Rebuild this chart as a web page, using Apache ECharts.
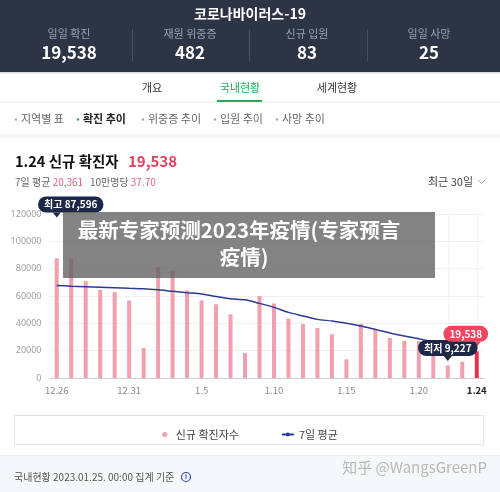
<!DOCTYPE html>
<html><head><meta charset="utf-8">
<script src="https://cdn.jsdelivr.net/npm/echarts@6/dist/echarts.min.js"></script>
<style>html,body{margin:0;padding:0;background:#fff}#c{width:500px;height:492px}</style>
</head><body><div id="c"></div>
<script>
const dates = ['12.26','12.27','12.28','12.29','12.30','12.31','1.1','1.2','1.3','1.4','1.5','1.6','1.7','1.8','1.9','1.10','1.11','1.12','1.13','1.14','1.15','1.16','1.17','1.18','1.19','1.20','1.21','1.22','1.23','1.24'];
const cases = [87596,87300,70800,64500,62800,56700,21900,81000,78800,64000,56800,53900,46600,18300,60000,54500,43500,39400,36600,32000,13600,39700,36100,29400,27200,26800,21500,9227,11900,19538];
const avg7 = [67700,67200,66800,66400,66000,65600,65300,64500,63400,62400,61500,59600,58000,57200,54600,51700,48000,45400,42900,41700,40000,38000,35500,33000,30800,28800,26500,24000,22000,20361];
const yTicks = [0,20000,40000,60000,80000,100000,120000];
const xLabelIdx = [0,5,10,15,20,25,29];
const stats = [['일일 확진','19,538'],['재원 위중증','482'],['신규 입원','83'],['일일 사망','25']];
const KR = "'Noto Sans CJK KR', 'Noto Sans', sans-serif";
const SC = "'Noto Sans CJK SC', sans-serif";

const chart = echarts.init(document.getElementById('c'), null, {renderer:'canvas'});
const statX = [69, 190, 307, 429];
const graphics = [
  {type:'rect', shape:{x:0,y:0,width:500,height:72}, style:{fill:'#2d3446'}, z:-1},
  {type:'rect', shape:{x:0,y:72,width:500,height:1.5}, style:{fill:'#d8dbe2'}},
  {type:'text', x:250, y:14, style:{text:'코로나바이러스-19', fill:'#fff', font:'bold 14px '+KR, textAlign:'center', textVerticalAlign:'middle'}}
];
stats.forEach((s,i)=>{
  graphics.push({type:'text', x:statX[i], y:34, style:{text:s[0], fill:'#9aa1b1', font:'11px '+KR, textAlign:'center', textVerticalAlign:'middle'}});
  graphics.push({type:'text', x:statX[i], y:53, style:{text:s[1], fill:'#fff', font:'bold 17px '+KR, textAlign:'center', textVerticalAlign:'middle'}});
});
[132,249,367].forEach(x=>graphics.push({type:'rect', shape:{x:x,y:29,width:1,height:32}, style:{fill:'#485064'}}));
// tabs
graphics.push({type:'text', x:152, y:88, style:{text:'개요', fill:'#333', font:'11px '+KR, textAlign:'center', textVerticalAlign:'middle'}});
graphics.push({type:'text', x:240, y:88, style:{text:'국내현황', fill:'#1fae5b', font:'11px '+KR, textAlign:'center', textVerticalAlign:'middle'}});
graphics.push({type:'text', x:337, y:88, style:{text:'세계현황', fill:'#333', font:'11px '+KR, textAlign:'center', textVerticalAlign:'middle'}});
graphics.push({type:'rect', shape:{x:0,y:101.5,width:500,height:1}, style:{fill:'#eeeeee'}});
graphics.push({type:'rect', shape:{x:217,y:100,width:45,height:2}, style:{fill:'#1fae5b'}});
const subs = [['지역별 표',16,false],['확진 추이',78,true],['위중증 추이',143,false],['입원 추이',215,false],['사망 추이',277,false]];
subs.forEach(s=>{
  graphics.push({type:'circle', shape:{cx:s[1],cy:119.5,r:1.3}, style:{fill:s[2]?'#1fae5b':'#aaa'}});
  graphics.push({type:'text', x:s[1]+5, y:119, style:{text:s[0], fill:s[2]?'#222':'#666', font:(s[2]?'bold ':'')+'11px '+KR, textVerticalAlign:'middle'}});
});
graphics.push({type:'rect', shape:{x:0,y:134,width:500,height:4}, style:{fill:'#f4f5f7'}});
// title block
graphics.push({type:'text', x:15, y:161, style:{text:'1.24 신규 확진자', fill:'#111', font:'bold 14.5px '+KR, textVerticalAlign:'middle'}});
graphics.push({type:'text', x:128, y:161, style:{text:'19,538', fill:'#e5405c', font:'bold 15px '+KR, textVerticalAlign:'middle'}});
graphics.push({type:'text', x:15, y:182, style:{rich:{a:{fill:'#666',font:'10px '+KR},p:{fill:'#e0607a',font:'10px '+KR}}, text:'{a|7일 평균 }{p|20,361}{a|   10만명당 }{p|37.70}', textVerticalAlign:'middle'}});
graphics.push({type:'text', x:428, y:182, style:{text:'최근 30일', fill:'#444', font:'11px '+KR, textVerticalAlign:'middle'}});
graphics.push({type:'polyline', shape:{points:[[478,180],[481.5,183.5],[485,180]]}, style:{stroke:'#aaa', lineWidth:1, fill:null}});
// legend box
graphics.push({type:'rect', shape:{x:14.5,y:415.5,width:469,height:29}, style:{fill:'none', stroke:'#e3e3e3', lineWidth:1}});
// footer
graphics.push({type:'rect', shape:{x:0,y:455,width:500,height:37}, style:{fill:'#f6f7fb'}, z:-1});
graphics.push({type:'rect', shape:{x:0,y:455,width:500,height:1}, style:{fill:'#eceef3'}});
graphics.push({type:'text', x:14, y:477, style:{text:'국내현황 2023.01.25. 00:00 집계 기준', fill:'#555', font:'10px '+KR, textVerticalAlign:'middle'}});
graphics.push({type:'circle', shape:{cx:186,cy:477,r:4.5}, style:{fill:'none', stroke:'#2c48a0', lineWidth:1.2}});
graphics.push({type:'text', x:186, y:477.5, style:{text:'i', fill:'#2c48a0', font:'bold 7px sans-serif', textAlign:'center', textVerticalAlign:'middle'}});
graphics.push({type:'text', x:487, y:467, style:{text:'知乎 @WangsGreenP', fill:'#b8b8b8', font:'15px '+SC, textAlign:'right', textVerticalAlign:'middle'}});
// overlay
graphics.push({type:'rect', shape:{x:63,y:212,width:372,height:66}, style:{fill:'rgba(96,96,96,0.78)'}, z:100});
graphics.push({type:'text', x:239, y:230, style:{text:'最新专家预测2023年疫情(专家预言', fill:'#fff', font:'bold 20.5px '+SC, textAlign:'center', textVerticalAlign:'middle'}, z:101});
graphics.push({type:'text', x:244, y:257, style:{text:'疫情)', fill:'#fff', font:'bold 20.5px '+SC, textAlign:'center', textVerticalAlign:'middle'}, z:101});

function bubble(idx, val, text, color, offX, symOffY){
  return {coord:[idx, val], symbol:'triangle', symbolRotate:180, symbolSize:[8,5], symbolOffset:[0,symOffY],
    itemStyle:{color:color},
    label:{show:true, position:'top', distance:0, offset:[offX,0], formatter:text, color:'#fff',
      backgroundColor:color, borderRadius:8, padding:[3,6,3,6], fontSize:10, fontFamily:KR, fontWeight:'bold'}};
}

const option = {
  animation:false,
  graphic:graphics,
  grid:{left:49.5, right:16, top:214, bottom:114},
  legend:{top:424, left:'center', itemGap:42, itemWidth:12, itemHeight:5,
    textStyle:{color:'#444', fontSize:11, fontFamily:KR},
    data:[{name:'신규 확진자수', icon:'circle'},{name:'7일 평균'}]},
  xAxis:{type:'category', data:dates, boundaryGap:true,
    axisLine:{lineStyle:{color:'#cfcfcf'}}, axisTick:{show:false},
    axisLabel:{interval:(i)=>xLabelIdx.includes(i), margin:8, color:'#8a8a8a', fontSize:9.5, fontFamily:KR,
      formatter:(v,i)=> i===dates.length-1 ? '{b|'+v+'}' : v,
      rich:{b:{color:'#222', fontWeight:'bold', fontSize:9.5, fontFamily:KR}}}},
  yAxis:{type:'value', min:yTicks[0], max:yTicks[yTicks.length-1], interval:yTicks[1]-yTicks[0],
    axisLine:{show:false}, axisTick:{show:false},
    axisLabel:{color:'#a0a0a0', fontSize:9, margin:8, fontFamily:"'Noto Sans', sans-serif", formatter:(v)=>String(v)},
    splitLine:{lineStyle:{color:'#f0f0f0'}}},
  series:[
    {name:'신규 확진자수', type:'bar', barWidth:4,
      data:cases.map((v,i)=> i===cases.length-1 ? {value:v, itemStyle:{color:'#e6304f'}} : v),
      itemStyle:{color:'#f0a0ae'},
      markLine:{silent:true, symbol:'none', label:{show:false}, lineStyle:{color:'#f2f2f2', type:'solid', width:1},
        data:[{xAxis:dates[27]},{xAxis:dates[29]}], z:0},
      markPoint:{silent:true, data:[
        bubble(0, yTicks[yTicks.length-1], '최고 87,596', '#1d2747', 14, 1),
        bubble(27, cases[27], '최저 9,227', '#1d2747', 0, -7),
        bubble(29, cases[29], '19,538', '#f0445f', -11, -7)
      ]}},
    {name:'7일 평균', type:'line', data:avg7, smooth:0.25, showSymbol:false, symbol:'circle', symbolSize:4,
      lineStyle:{color:'#2c3a94', width:1.5}, itemStyle:{color:'#2c3a94'}, z:3}
  ]
};
chart.setOption(option);
</script></body></html>
